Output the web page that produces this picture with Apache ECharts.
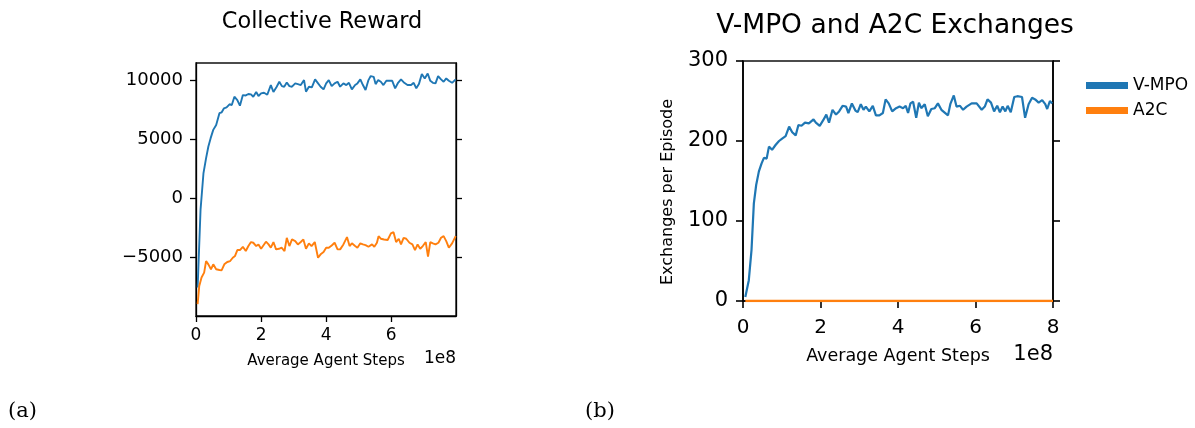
<!DOCTYPE html>
<html><head><meta charset="utf-8">
<script src="https://cdn.jsdelivr.net/npm/echarts@6/dist/echarts.min.js"></script>
<style>html,body{margin:0;padding:0;background:#fff}#c{width:1195px;height:428px}</style>
</head><body><div id="c"></div>
<script>
// ---- Data (x in units of 1e8 agent steps) ----
const rewardVmpoSteps = [0.05,0.14,0.23,0.31,0.38,0.45,0.53,0.62,0.72,0.79,0.86,0.94,1.03,1.10,1.18,1.27,1.35,1.44,1.53,1.61,1.69,1.76,1.85,1.92,2.00,2.09,2.19,2.30,2.38,2.48,2.56,2.64,2.71,2.79,2.87,2.95,3.05,3.13,3.22,3.32,3.38,3.47,3.56,3.66,3.74,3.83,3.92,4.00,4.08,4.17,4.26,4.35,4.43,4.53,4.62,4.70,4.79,4.89,4.96,5.05,5.13,5.21,5.30,5.37,5.46,5.52,5.60,5.68,5.76,5.85,5.94,6.03,6.12,6.21,6.30,6.40,6.50,6.61,6.69,6.77,6.85,6.94,7.03,7.12,7.20,7.28,7.36,7.44,7.53,7.61,7.69,7.77,7.87,7.98];
const rewardVmpo = [-7590,-975,2120,3390,4370,5080,5780,6200,7190,7270,7610,7690,7950,7890,8590,8310,7830,8730,8700,8820,8790,8590,8990,8650,8870,8930,8760,9580,8990,9440,9860,9490,9440,9800,9490,9440,9720,9660,9580,10000,9020,9440,9380,10060,9770,9440,9210,9720,10000,9490,9720,9860,9440,9720,9580,9770,9210,9580,9720,10060,9580,9160,10000,10340,10280,9660,10000,9860,9580,9940,9940,9940,9300,9770,10060,9770,9580,9580,9770,9300,9660,10510,10140,10560,9940,9770,9720,10340,10060,9860,10140,9940,9770,10060];
const rewardA2cSteps = [0.05,0.10,0.17,0.25,0.31,0.38,0.46,0.53,0.62,0.72,0.79,0.87,0.96,1.05,1.13,1.20,1.27,1.35,1.44,1.53,1.61,1.69,1.76,1.85,1.92,2.00,2.07,2.15,2.23,2.30,2.38,2.46,2.55,2.63,2.72,2.79,2.87,2.95,3.05,3.13,3.22,3.30,3.38,3.47,3.55,3.65,3.75,3.83,3.92,4.00,4.08,4.17,4.26,4.35,4.43,4.53,4.64,4.72,4.79,4.89,4.96,5.05,5.13,5.21,5.30,5.41,5.48,5.56,5.61,5.68,5.78,5.89,5.99,6.07,6.15,6.23,6.30,6.38,6.46,6.56,6.65,6.73,6.81,6.89,6.97,7.06,7.13,7.20,7.28,7.36,7.45,7.53,7.61,7.69,7.77,7.87,7.98];
const rewardA2c = [-8990,-7450,-6740,-6320,-5340,-5620,-6040,-5620,-6040,-6100,-6120,-5620,-5420,-5340,-5060,-4910,-4410,-4410,-4130,-4490,-4070,-3730,-3790,-4070,-3930,-4300,-4020,-3700,-3930,-4210,-3730,-4350,-4300,-4210,-4490,-3370,-4070,-3510,-3650,-3930,-3730,-3510,-4300,-3840,-4070,-3730,-5060,-4770,-4580,-4210,-4210,-4020,-3790,-4350,-4350,-3930,-3310,-4070,-3840,-4070,-4210,-3840,-3930,-3990,-4130,-3930,-4130,-3790,-3230,-3450,-3510,-3560,-3000,-2890,-3730,-3450,-3930,-3370,-3450,-3790,-3930,-4410,-3930,-4300,-4070,-3730,-4970,-3730,-3840,-3930,-3790,-3370,-3230,-3650,-4210,-3840,-3230];
const exchVmpoSteps = [0.06,0.15,0.22,0.28,0.34,0.41,0.48,0.54,0.61,0.67,0.75,0.84,0.93,1.01,1.10,1.19,1.27,1.36,1.43,1.51,1.60,1.70,1.82,1.88,1.98,2.07,2.15,2.22,2.31,2.40,2.48,2.57,2.66,2.72,2.81,2.90,2.96,3.04,3.11,3.17,3.26,3.35,3.43,3.52,3.61,3.68,3.76,3.85,3.95,4.04,4.13,4.20,4.26,4.32,4.39,4.47,4.54,4.60,4.69,4.77,4.86,4.95,5.03,5.12,5.29,5.35,5.44,5.51,5.60,5.68,5.77,5.90,6.03,6.16,6.24,6.31,6.40,6.48,6.56,6.63,6.70,6.77,6.83,6.91,7.00,7.08,7.20,7.28,7.37,7.46,7.54,7.63,7.72,7.80,7.85,7.92,7.98];
const exchVmpo = [5,26,64,122,145,162,172,179,178,193,189,195,200,203,206,218,211,207,220,219,223,222,227,223,219,226,233,223,239,233,237,244,243,235,247,238,236,246,239,243,237,244,232,232,235,252,247,237,241,243,241,244,235,247,249,229,248,241,246,231,240,241,247,239,232,246,257,243,244,239,243,247,247,239,243,252,248,237,244,236,243,237,244,236,255,256,255,229,246,254,252,248,251,246,240,250,247];
const exchA2cSteps = [0.06,2.0,4.0,6.0,8.0];
const exchA2c = [0,0,0,0,0];
const rewardXTicks = [0,2,4,6];
const exchXTicks = [0,2,4,6,8];
const rewardTicks = [-5000,0,5000,10000];
const exchTicks = [0,100,200,300];

const pair = (xs, ys) => xs.map((x, i) => [x, ys[i]]);
const BLUE = '#1f77b4', ORANGE = '#ff7f0e';
const F = 'DejaVu Sans';
const fmtNum = v => v < 0 ? '\u2212' + Math.abs(v) : String(v);

const chart = echarts.init(document.getElementById('c'));
const axLine = w => ({show: true, onZero: false, lineStyle: {color: '#000', width: w}});
const tick = (w, len, vals) => ({show: true, inside: false, length: len, customValues: vals, lineStyle: {color: '#000', width: w}});

chart.setOption({
  animation: false,
  backgroundColor: '#fff',
  title: [
    {text: 'Collective Reward', left: 317, top: 6, textAlign: 'center',
     textStyle: {fontFamily: F, fontSize: 22.4, fontWeight: 'normal', color: '#000'}},
    {text: 'V-MPO and A2C Exchanges', left: 890, top: 8, textAlign: 'center',
     textStyle: {fontFamily: F, fontSize: 26.5, fontWeight: 'normal', color: '#000'}}
  ],
  grid: [
    {left: 196, right: 739, top: 63, bottom: 112, show: true, borderColor: '#111', borderWidth: 1.3},
    {left: 743, right: 142, top: 61, bottom: 127, show: true, borderColor: '#111', borderWidth: 1.6}
  ],
  legend: {
    orient: 'vertical', left: 1081, top: 72, itemWidth: 42, itemHeight: 7, itemGap: 8,
    textStyle: {fontFamily: F, fontSize: 17, color: '#000'},
    data: [{name: 'V-MPO', icon: 'rect'}, {name: 'A2C', icon: 'rect'}]
  },
  xAxis: [
    {type: 'value', gridIndex: 0, min: 0, max: 7.99,
     axisLine: axLine(1.3), axisTick: tick(1.3, 6, rewardXTicks), splitLine: {show: false},
     axisLabel: {fontFamily: F, fontSize: 17, color: '#000', margin: 11, customValues: rewardXTicks}},
    {type: 'value', gridIndex: 1, min: 0, max: 8,
     axisLine: axLine(1.6), axisTick: tick(1.6, 7, exchXTicks), splitLine: {show: false},
     axisLabel: {fontFamily: F, fontSize: 20, color: '#000', margin: 17, customValues: exchXTicks}}
  ],
  yAxis: [
    {type: 'value', gridIndex: 0, min: -10000, max: 11450,
     axisLine: axLine(1.3), axisTick: tick(1.3, 6, rewardTicks), splitLine: {show: false},
     axisLabel: {fontFamily: F, fontSize: 18, color: '#000', margin: 13, customValues: rewardTicks, formatter: fmtNum}},
    {type: 'value', gridIndex: 0, position: 'right', min: -10000, max: 11450,
     axisLine: axLine(1.3), axisTick: tick(1.3, 6, rewardTicks), splitLine: {show: false},
     axisLabel: {show: false}},
    {type: 'value', gridIndex: 1, min: 0, max: 300,
     axisLine: axLine(1.6), axisTick: tick(1.6, 7, exchTicks), splitLine: {show: false},
     axisLabel: {fontFamily: F, fontSize: 21, color: '#000', margin: 15, customValues: exchTicks}},
    {type: 'value', gridIndex: 1, position: 'right', min: 0, max: 300,
     axisLine: axLine(1.6), axisTick: tick(1.6, 7, exchTicks), splitLine: {show: false},
     axisLabel: {show: false}}
  ],
  series: [
    {name: 'V-MPO', type: 'line', xAxisIndex: 0, yAxisIndex: 0, data: pair(rewardVmpoSteps, rewardVmpo),
     showSymbol: false, color: BLUE, lineStyle: {width: 1.9}},
    {name: 'A2C', type: 'line', xAxisIndex: 0, yAxisIndex: 0, data: pair(rewardA2cSteps, rewardA2c),
     showSymbol: false, color: ORANGE, lineStyle: {width: 1.9}},
    {name: 'V-MPO', type: 'line', xAxisIndex: 1, yAxisIndex: 2, data: pair(exchVmpoSteps, exchVmpo),
     showSymbol: false, color: BLUE, lineStyle: {width: 2.2}},
    {name: 'A2C', type: 'line', xAxisIndex: 1, yAxisIndex: 2, data: pair(exchA2cSteps, exchA2c),
     showSymbol: false, color: ORANGE, lineStyle: {width: 2.5}, z: 5}
  ],
  graphic: [
    {type: 'text', x: 326, y: 361, style: {text: 'Average Agent Steps', font: '15px "DejaVu Sans"', fill: '#000', align: 'center', verticalAlign: 'middle'}},
    {type: 'text', x: 898, y: 356, style: {text: 'Average Agent Steps', font: '17.5px "DejaVu Sans"', fill: '#000', align: 'center', verticalAlign: 'middle'}},
    {type: 'text', x: 668, y: 192, rotation: Math.PI / 2, style: {text: 'Exchanges per Episode', font: '16px "DejaVu Sans"', fill: '#000', align: 'center', verticalAlign: 'middle'}},
    {type: 'text', x: 456, y: 359, style: {text: '1e8', font: '17px "DejaVu Sans"', fill: '#000', align: 'right', verticalAlign: 'middle'}},
    {type: 'text', x: 1053, y: 355, style: {text: '1e8', font: '21px "DejaVu Sans"', fill: '#000', align: 'right', verticalAlign: 'middle'}},
    {type: 'text', x: 8, y: 412, style: {text: '(a)', font: '21px "DejaVu Serif"', fill: '#000', verticalAlign: 'middle'}},
    {type: 'text', x: 585, y: 412, style: {text: '(b)', font: '21px "DejaVu Serif"', fill: '#000', verticalAlign: 'middle'}}
  ]
});
</script></body></html>
